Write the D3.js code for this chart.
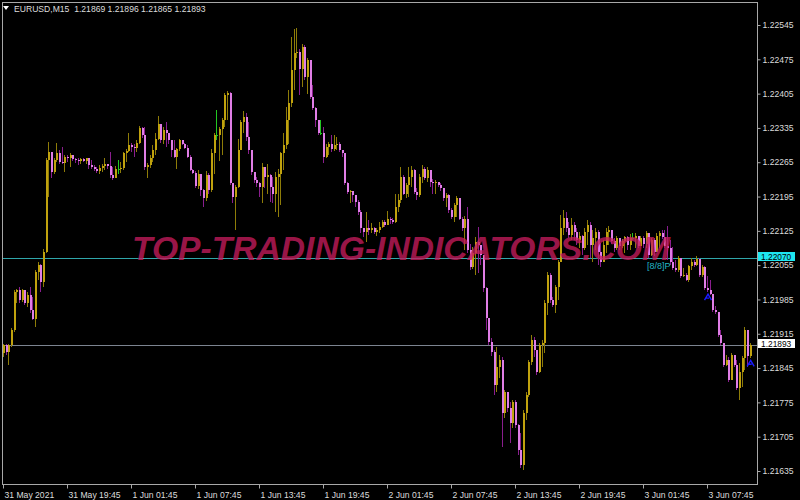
<!DOCTYPE html>
<html>
<head>
<meta charset="utf-8">
<script src="https://cdn.jsdelivr.net/npm/d3@7"></script>
<style>
  html, body { margin: 0; padding: 0; background: #000; overflow: hidden; }
</style>
</head>
<body>
<div id="chart"></div>
<script>
// EURUSD M15, 31 May 2021 13:45 -> 3 Jun 2021 11:45 (one value per bar)
const firstOpen = 1.21875;

const closes = [
  1.21892,1.21878,1.21892,1.21922,1.22001,1.22005,1.21984,1.22004,1.21977,1.21994,
  1.21963,1.21946,1.22041,1.22055,1.22021,1.22082,1.22269,1.22286,1.22245,1.22269,
  1.22283,1.22266,1.22264,1.22276,1.22273,1.22279,1.22271,1.22269,1.22268,1.22271,
  1.22268,1.22273,1.22259,1.22256,1.22252,1.22247,1.22254,1.22257,1.22261,1.22257,
  1.22239,1.22232,1.22252,1.22252,1.22254,1.22283,1.22288,1.22300,1.22296,1.22295,
  1.22305,1.22334,1.22320,1.22256,1.22259,1.22273,1.22290,1.22313,1.22344,1.22310,
  1.22330,1.22324,1.22310,1.22290,1.22276,1.22291,1.22310,1.22303,1.22295,1.22276,
  1.22250,1.22243,1.22216,1.22242,1.22208,1.22191,1.22239,1.22208,1.22283,1.22320,
  1.22320,1.22332,1.22351,1.22402,1.22407,1.22222,1.22194,1.22215,1.22290,1.22347,
  1.22358,1.22317,1.22290,1.22246,1.22229,1.22222,1.22215,1.22256,1.22235,1.22239,
  1.22215,1.22201,1.22235,1.22242,1.22283,1.22300,1.22351,1.22385,1.22453,1.22487,
  1.22490,1.22456,1.22501,1.22439,1.22473,1.22399,1.22375,1.22351,1.22324,1.22324,
  1.22276,1.22297,1.22303,1.22293,1.22300,1.22303,1.22290,1.22283,1.22222,1.22205,
  1.22207,1.22198,1.22184,1.22164,1.22130,1.22123,1.22130,1.22127,1.22130,1.22123,
  1.22127,1.22133,1.22144,1.22137,1.22150,1.22147,1.22144,1.22174,1.22188,1.22235,
  1.22201,1.22218,1.22235,1.22249,1.22205,1.22198,1.22235,1.22252,1.22232,1.22249,
  1.22225,1.22222,1.22225,1.22218,1.22212,1.22191,1.22198,1.22167,1.22154,1.22178,
  1.22191,1.22150,1.22130,1.22150,1.22086,1.22052,1.22079,1.22103,1.22096,1.22076,
  1.22008,1.21947,1.21898,1.21878,1.21811,1.21847,1.21862,1.21754,1.21796,1.21764,
  1.21733,1.21776,1.21729,1.21678,1.21647,1.21754,1.21790,1.21857,1.21902,1.21882,
  1.21837,1.21892,1.21896,1.21978,1.22035,1.21984,1.21974,1.22010,1.22061,1.22131,
  1.22151,1.22131,1.22117,1.22137,1.22123,1.22106,1.22115,1.22090,1.22123,1.22137,
  1.22096,1.22110,1.22123,1.22082,1.22061,1.22096,1.22123,1.22127,1.22104,1.22090,
  1.22110,1.22094,1.22104,1.22113,1.22096,1.22110,1.22110,1.22115,1.22094,1.22110,
  1.22098,1.22121,1.22076,1.22106,1.22082,1.22115,1.22121,1.22113,1.22094,1.22090,
  1.22061,1.22049,1.22045,1.22070,1.22033,1.22035,1.22025,1.22053,1.22061,1.22055,
  1.22068,1.22035,1.22051,1.22008,1.22004,1.21996,1.21964,1.21960,1.21913,1.21896,
  1.21851,1.21862,1.21821,1.21872,1.21851,1.21805,1.21837,1.21866,1.21923,1.21869,
  1.21893
];

const highs = [
  1.21895,1.21895,1.21895,1.21926,1.22005,1.22007,1.22011,1.22007,1.22005,1.22001,
  1.22011,1.21990,1.22046,1.22062,1.22058,1.22087,1.22273,1.22307,1.22286,1.22273,
  1.22305,1.22290,1.22296,1.22279,1.22279,1.22283,1.22279,1.22274,1.22273,1.22274,
  1.22273,1.22274,1.22274,1.22269,1.22259,1.22256,1.22259,1.22261,1.22273,1.22262,
  1.22286,1.22256,1.22257,1.22269,1.22266,1.22286,1.22291,1.22325,1.22305,1.22302,
  1.22311,1.22339,1.22336,1.22337,1.22264,1.22279,1.22300,1.22324,1.22359,1.22318,
  1.22337,1.22347,1.22325,1.22311,1.22310,1.22295,1.22313,1.22311,1.22305,1.22300,
  1.22279,1.22252,1.22247,1.22249,1.22239,1.22211,1.22247,1.22243,1.22291,1.22325,
  1.22371,1.22336,1.22355,1.22407,1.22410,1.22409,1.22223,1.22218,1.22313,1.22352,
  1.22370,1.22366,1.22347,1.22276,1.22246,1.22235,1.22225,1.22263,1.22256,1.22261,
  1.22242,1.22235,1.22246,1.22252,1.22286,1.22324,1.22378,1.22412,1.22521,1.22536,
  1.22538,1.22497,1.22506,1.22504,1.22477,1.22443,1.22422,1.22378,1.22351,1.22352,
  1.22337,1.22303,1.22307,1.22320,1.22320,1.22317,1.22307,1.22290,1.22283,1.22225,
  1.22208,1.22205,1.22198,1.22188,1.22167,1.22130,1.22164,1.22147,1.22140,1.22133,
  1.22130,1.22144,1.22147,1.22148,1.22166,1.22154,1.22152,1.22201,1.22201,1.22256,
  1.22239,1.22223,1.22256,1.22257,1.22252,1.22212,1.22241,1.22259,1.22256,1.22256,
  1.22249,1.22230,1.22229,1.22225,1.22222,1.22212,1.22203,1.22201,1.22171,1.22182,
  1.22196,1.22191,1.22154,1.22155,1.22174,1.22099,1.22093,1.22113,1.22133,1.22096,
  1.22072,1.22010,1.21947,1.21906,1.21882,1.21888,1.21872,1.21868,1.21800,1.21794,
  1.21776,1.21780,1.21780,1.21731,1.21713,1.21760,1.21796,1.21862,1.21913,1.21908,
  1.21878,1.21896,1.21902,1.21984,1.22041,1.22039,1.21990,1.22015,1.22066,1.22157,
  1.22168,1.22163,1.22143,1.22151,1.22143,1.22131,1.22123,1.22117,1.22131,1.22147,
  1.22143,1.22127,1.22131,1.22127,1.22100,1.22106,1.22131,1.22135,1.22127,1.22110,
  1.22115,1.22110,1.22108,1.22115,1.22115,1.22119,1.22121,1.22121,1.22115,1.22115,
  1.22115,1.22125,1.22106,1.22110,1.22110,1.22121,1.22125,1.22127,1.22127,1.22135,
  1.22106,1.22092,1.22066,1.22074,1.22066,1.22049,1.22039,1.22055,1.22070,1.22066,
  1.22074,1.22070,1.22055,1.22053,1.22033,1.22025,1.21994,1.21972,1.21960,1.21923,
  1.21896,1.21872,1.21868,1.21876,1.21866,1.21862,1.21856,1.21870,1.21929,1.21923,
  1.21896
];

const lows = [
  1.21868,1.21871,1.21851,1.21888,1.21919,1.21977,1.21977,1.21980,1.21973,1.21970,
  1.21958,1.21943,1.21929,1.22024,1.22001,1.22011,1.22079,1.22194,1.22232,1.22242,
  1.22266,1.22262,1.22261,1.22245,1.22266,1.22256,1.22268,1.22264,1.22259,1.22262,
  1.22265,1.22262,1.22252,1.22251,1.22247,1.22244,1.22241,1.22245,1.22249,1.22251,
  1.22232,1.22228,1.22232,1.22242,1.22243,1.22249,1.22266,1.22286,1.22286,1.22276,
  1.22286,1.22303,1.22315,1.22249,1.22232,1.22254,1.22266,1.22279,1.22310,1.22305,
  1.22302,1.22296,1.22303,1.22276,1.22273,1.22252,1.22288,1.22300,1.22291,1.22273,
  1.22247,1.22241,1.22213,1.22211,1.22196,1.22174,1.22186,1.22201,1.22205,1.22242,
  1.22310,1.22268,1.22279,1.22337,1.22351,1.22218,1.22181,1.22126,1.22213,1.22290,
  1.22325,1.22309,1.22281,1.22239,1.22222,1.22215,1.22195,1.22181,1.22212,1.22201,
  1.22184,1.22181,1.22164,1.22154,1.22178,1.22249,1.22293,1.22303,1.22378,1.22412,
  1.22477,1.22402,1.22419,1.22433,1.22405,1.22395,1.22371,1.22337,1.22320,1.22320,
  1.22263,1.22273,1.22280,1.22286,1.22288,1.22290,1.22286,1.22276,1.22218,1.22201,
  1.22182,1.22184,1.22174,1.22157,1.22120,1.22113,1.22103,1.22116,1.22120,1.22118,
  1.22114,1.22120,1.22130,1.22132,1.22137,1.22139,1.22139,1.22140,1.22164,1.22182,
  1.22198,1.22191,1.22195,1.22215,1.22200,1.22188,1.22195,1.22222,1.22229,1.22225,
  1.22215,1.22201,1.22201,1.22215,1.22207,1.22186,1.22174,1.22162,1.22149,1.22144,
  1.22154,1.22147,1.22125,1.22086,1.22079,1.22046,1.22048,1.22035,1.22039,1.22055,
  1.22000,1.21923,1.21892,1.21870,1.21790,1.21796,1.21825,1.21684,1.21743,1.21756,
  1.21692,1.21723,1.21723,1.21668,1.21641,1.21637,1.21739,1.21786,1.21851,1.21868,
  1.21831,1.21835,1.21847,1.21876,1.21953,1.21978,1.21970,1.21957,1.21984,1.22061,
  1.22117,1.22123,1.22110,1.22106,1.22106,1.22096,1.22090,1.22076,1.22086,1.22096,
  1.22070,1.22061,1.22086,1.22055,1.22051,1.22061,1.22080,1.22096,1.22098,1.22082,
  1.22086,1.22086,1.22090,1.22080,1.22086,1.22086,1.22106,1.22090,1.22090,1.22094,
  1.22090,1.22090,1.22070,1.22074,1.22074,1.22082,1.22090,1.22108,1.22090,1.22066,
  1.22055,1.22045,1.22041,1.22041,1.22029,1.22031,1.22023,1.22021,1.22045,1.22051,
  1.22053,1.22031,1.22031,1.22004,1.22000,1.21994,1.21960,1.21955,1.21908,1.21892,
  1.21847,1.21849,1.21817,1.21831,1.21847,1.21800,1.21780,1.21807,1.21841,1.21847,
  1.21865
];

const priceTicks = [1.22545, 1.22475, 1.22405, 1.22335, 1.22265, 1.22195, 1.22125,
  1.22055, 1.21985, 1.21915, 1.21845, 1.21775, 1.21705, 1.21635];

const timeTickBars = [0, 24, 48, 72, 96, 120, 144, 168, 192, 216, 240, 264];
const timeLabels = ['31 May 2021', '31 May 19:45', '1 Jun 01:45', '1 Jun 07:45', '1 Jun 13:45',
  '1 Jun 19:45', '2 Jun 01:45', '2 Jun 07:45', '2 Jun 13:45', '2 Jun 19:45', '3 Jun 01:45', '3 Jun 07:45'];

const levelPrices = [1.22070, 1.21893];
const arrowBars = [264, 280];
const symbolName = 'EURUSD,M15';
const lastQuote = ['1.21869', '1.21896', '1.21865', '1.21893'];

const width = 800;
const height = 500;
const frame = { left: 2, top: 2, right: 757, bottom: 484 };
const font = "'Liberation Sans', Arial, sans-serif";

const col = {
  upBody: '#c0a20e', upWick: '#8e7c08',
  downBody: '#e07ee6', downWick: '#8a1e8e',
  doji: '#22c822',
  axis: '#a8a8a8', text: '#dcdcdc'
};

const svg = d3.select('#chart')
  .append('svg')
  .attr('width', width)
  .attr('height', height)
  .style('display', 'block')
  .style('background', '#000');

const n = closes.length;
const x = d3.scaleLinear().domain([0, n - 1]).range([3, 3 + (n - 1) * 8 / 3]);
const y = d3.scaleLinear().domain([1.21635, 1.22545]).range([471, 25]);

const bars = closes.map((c, i) => {
  const o = i === 0 ? firstOpen : closes[i - 1];
  return { i, o, c, h: Math.max(highs[i], o, c), l: Math.min(lows[i], o, c) };
});
const kind = (d) => (d.c > d.o ? 'up' : d.c < d.o ? 'down' : 'doji');

// level lines (under candles)
const levelColors = ['#2fa6aa', '#7c8490'];
svg.append('g')
  .selectAll('line')
  .data(levelPrices)
  .join('line')
  .attr('x1', frame.left)
  .attr('x2', frame.right)
  .attr('y1', (d) => Math.round(y(d)) + 0.5)
  .attr('y2', (d) => Math.round(y(d)) + 0.5)
  .attr('stroke', (d, i) => levelColors[i])
  .attr('stroke-width', 1);

// candles
const cg = svg.append('g').attr('shape-rendering', 'crispEdges');

cg.selectAll('line')
  .data(bars)
  .join('line')
  .attr('x1', (d) => Math.round(x(d.i)) + 0.5)
  .attr('x2', (d) => Math.round(x(d.i)) + 0.5)
  .attr('y1', (d) => y(d.h))
  .attr('y2', (d) => y(d.l))
  .attr('stroke', (d) => (kind(d) === 'up' ? col.upWick : kind(d) === 'down' ? col.downWick : col.doji))
  .attr('stroke-width', 1);

cg.selectAll('rect')
  .data(bars)
  .join('rect')
  .attr('x', (d) => Math.round(x(d.i)))
  .attr('width', 2)
  .attr('y', (d) => y(Math.max(d.o, d.c)))
  .attr('height', (d) => Math.max(1, Math.abs(y(d.o) - y(d.c))))
  .attr('fill', (d) => (kind(d) === 'up' ? col.upBody : kind(d) === 'down' ? col.downBody : col.doji));

// blue arrows under some lows
svg.append('g')
  .selectAll('path')
  .data(arrowBars)
  .join('path')
  .attr('d', (b) => {
    const cx = x(b) + 1, ty = y(bars[b].l) + 2;
    return `M${cx - 3.5},${ty + 6} L${cx},${ty} L${cx + 3.5},${ty + 6} M${cx - 2},${ty + 4} L${cx + 1},${ty + 4}`;
  })
  .attr('fill', 'none')
  .attr('stroke', '#1a1aff')
  .attr('stroke-width', 1.4);

// watermark
svg.append('text')
  .attr('x', 132)
  .attr('y', 260)
  .attr('font-family', font)
  .attr('font-weight', 'bold')
  .attr('font-style', 'italic')
  .attr('font-size', 33)
  .attr('textLength', 538)
  .attr('lengthAdjust', 'spacingAndGlyphs')
  .attr('fill', 'rgb(196,28,92)')
  .attr('fill-opacity', 0.8)
  .text('TOP-TRADING-INDICATORS.COM');

// indicator tag
svg.append('text')
  .attr('x', 647)
  .attr('y', 269)
  .attr('font-family', font)
  .attr('font-size', 9)
  .attr('fill', '#22b6c6')
  .text('[8/8]P');

// frame
svg.append('rect')
  .attr('x', frame.left + 0.5)
  .attr('y', frame.top + 0.5)
  .attr('width', frame.right - frame.left)
  .attr('height', frame.bottom - frame.top)
  .attr('fill', 'none')
  .attr('stroke', col.axis)
  .attr('stroke-width', 1);

// right price axis
const yAxis = svg.append('g')
  .attr('transform', `translate(${frame.right + 0.5},0)`)
  .call(d3.axisRight(y).tickValues(priceTicks).tickFormat(d3.format('.5f')).tickSize(3).tickPadding(2));
yAxis.select('.domain').remove();
yAxis.selectAll('line').attr('stroke', col.axis);
yAxis.selectAll('text')
  .attr('fill', col.text)
  .attr('font-family', font)
  .attr('font-size', 8.6);

// bottom time axis
const xAxis = svg.append('g')
  .attr('transform', `translate(0,${frame.bottom + 0.5})`)
  .call(d3.axisBottom(x).tickValues(timeTickBars).tickFormat((d, i) => timeLabels[i]).tickSize(4).tickPadding(3));
xAxis.select('.domain').remove();
xAxis.selectAll('line').attr('stroke', col.axis);
xAxis.selectAll('text')
  .attr('fill', col.text)
  .attr('font-family', font)
  .attr('font-size', 8.6)
  .attr('text-anchor', 'start')
  .attr('x', 1);

// level price labels
const levelBox = ['#1ee6f0', '#ffffff'];
const lg = svg.append('g')
  .selectAll('g')
  .data(levelPrices)
  .join('g')
  .attr('transform', (d) => `translate(758,${Math.round(y(d)) - 6})`);
lg.append('rect')
  .attr('width', 37)
  .attr('height', 9)
  .attr('fill', (d, i) => levelBox[i]);
lg.append('text')
  .attr('x', 3)
  .attr('y', 7.8)
  .attr('font-family', font)
  .attr('font-size', 8.4)
  .attr('fill', '#000')
  .text((d) => d3.format('.5f')(d));

// header
svg.append('path')
  .attr('d', 'M3,6 L9,6 L6,10 Z')
  .attr('fill', '#ffffff');
svg.append('text')
  .attr('x', 14)
  .attr('y', 12)
  .attr('font-family', font)
  .attr('font-size', 8.6)
  .attr('fill', col.text)
  .style('white-space', 'pre')
  .text(`${symbolName}  ${lastQuote.join(' ')}`);
</script>
</body>
</html>
